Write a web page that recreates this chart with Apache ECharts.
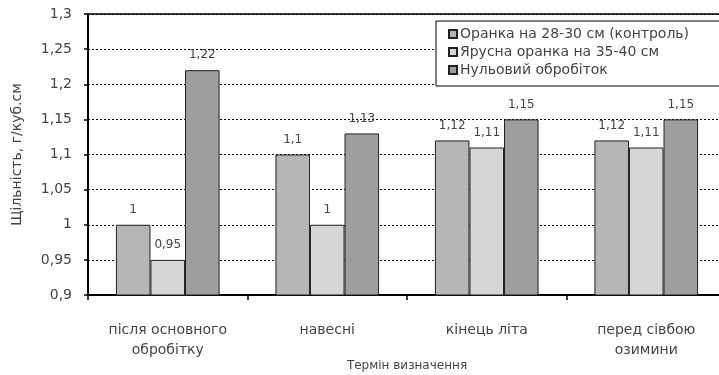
<!DOCTYPE html>
<html>
<head>
<meta charset="utf-8">
<script src="https://cdn.jsdelivr.net/npm/echarts@6/dist/echarts.min.js"></script>
<style>
  html, body { margin: 0; padding: 0; background: #fff; }
  #chart { width: 719px; height: 375px; }
</style>
</head>
<body>
<div id="chart"></div>
<script>
// ---- data ----
const categories = ['після основного\nобробітку', 'навесні', 'кінець літа', 'перед сівбою\nозимини'];
const seriesNames = ['Оранка на 28-30 см (контроль)', 'Ярусна оранка на 35-40 см', 'Нульовий обробіток'];
const ploughing = [1, 1.1, 1.12, 1.12];
const tieredPloughing = [0.95, 1, 1.11, 1.11];
const zeroTillage = [1.22, 1.13, 1.15, 1.15];
const yMin = 0.9, yMax = 1.3, yStep = 0.05;
const yAxisTitle = 'Щільність, г/куб.см';
const xAxisTitle = 'Термін визначення';

// ---- chart ----
const FONT = 'DejaVu Sans';
const TXT = '#444';
const fmt = v => String(+Number(v).toFixed(2)).replace('.', ',');
const fills = ['#b6b6b6', '#d6d6d6', '#9e9e9e'];
const seriesData = [ploughing, tieredPloughing, zeroTillage];

const chart = echarts.init(document.getElementById('chart'), null, { renderer: 'canvas' });
chart.setOption({
  animation: false,
  backgroundColor: '#fff',
  textStyle: { fontFamily: FONT, color: TXT },
  grid: { left: 88, top: 14, width: 638, height: 281, containLabel: false, outerBoundsMode: 'none' },
  legend: {
    orient: 'vertical',
    left: 436, top: 21,
    backgroundColor: '#fff',
    borderColor: '#000', borderWidth: 1,
    padding: [6, 40, 9, 12],
    itemGap: 4, itemWidth: 8, itemHeight: 8,
    icon: 'rect',
    textStyle: { fontFamily: FONT, fontSize: 14, lineHeight: 13, color: TXT, padding: [0, 0, 0, -2] },
    data: seriesNames
  },
  xAxis: [{
    type: 'category',
    data: categories,
    position: 'bottom',
    axisLine: { lineStyle: { color: '#000', width: 2 } },
    axisTick: { show: true, length: 5, lineStyle: { color: '#000', width: 1.5 } },
    axisLabel: { fontFamily: FONT, fontSize: 14, lineHeight: 20, color: TXT, margin: 25, interval: 0 },
    name: xAxisTitle, nameLocation: 'middle', nameGap: 65, nameMoveOverlap: false,
    nameTextStyle: { fontFamily: FONT, fontSize: 12, color: TXT }
  }, {
    type: 'category',
    data: categories,
    position: 'top',
    axisLine: { lineStyle: { color: '#000', width: 1.5 } },
    axisTick: { show: false }, axisLabel: { show: false }, splitLine: { show: false }
  }],
  yAxis: {
    type: 'value',
    min: yMin, max: yMax, interval: yStep,
    axisLine: { show: true, lineStyle: { color: '#000', width: 2 } },
    axisTick: { show: true, length: 4, lineStyle: { color: '#000', width: 1.5 } },
    axisLabel: { fontFamily: FONT, fontSize: 14, color: TXT, margin: 16, formatter: fmt },
    splitLine: { show: true, lineStyle: { color: '#000', width: 1, type: [2, 2] } },
    name: yAxisTitle, nameLocation: 'middle', nameGap: 64, nameMoveOverlap: false,
    nameTextStyle: { fontFamily: FONT, fontSize: 14, color: TXT }
  },
  series: seriesNames.map((name, i) => ({
    name: name,
    type: 'bar',
    xAxisIndex: 0,
    data: seriesData[i],
    barGap: '0%',
    barCategoryGap: '35%',
    itemStyle: { color: fills[i], borderColor: '#222', borderWidth: 1 },
    label: {
      show: true, position: 'top', distance: 9,
      fontFamily: FONT, fontSize: 12, color: TXT,
      formatter: p => fmt(p.value)
    }
  }))
});
</script>
</body>
</html>
